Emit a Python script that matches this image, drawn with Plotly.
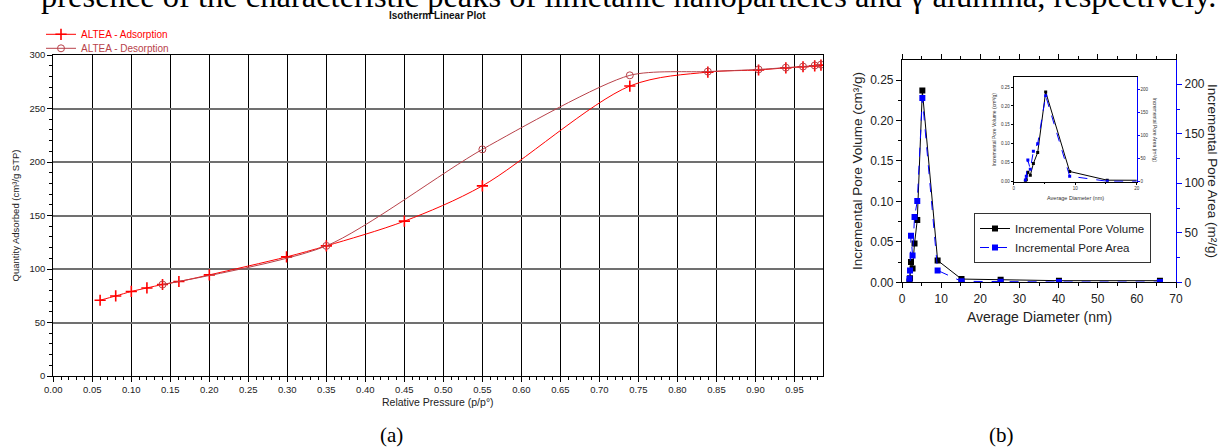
import plotly.graph_objects as go

W, H = 1222, 448

# ---------------- (a) Isotherm data ----------------
ads_p = [0.060, 0.080, 0.100, 0.120, 0.140, 0.161, 0.200, 0.299, 0.350, 0.450,
         0.550, 0.739, 0.839, 0.904, 0.939, 0.961, 0.976, 0.984]
ads_q = [70.8, 74.8, 79.0, 82.3, 85.5, 88.3, 94.5, 111.3, 121.6, 144.7,
         177.7, 271.0, 284.0, 286.0, 288.0, 289.0, 289.8, 290.5]
des_p = [0.984, 0.976, 0.961, 0.939, 0.904, 0.839, 0.739, 0.550, 0.350, 0.140]
des_q = [291.0, 290.2, 289.2, 288.2, 286.5, 284.5, 281.0, 211.8, 121.6, 85.5]

# ---------------- (b) Pore size distribution ----------------
diam = [1.9, 2.05, 2.3, 2.7, 3.2, 3.9, 5.2, 9.1, 15.2, 25.2, 40.1, 65.9]
pore_vol = [0.001, 0.005, 0.025, 0.017, 0.048, 0.077, 0.237, 0.027, 0.004, 0.003, 0.002, 0.002]
pore_area = [3.7, 12.0, 47.0, 27.0, 66.0, 82.0, 186.0, 12.0, 1.0, 0.5, 0.3, 0.2]

LEFT_FONT = "Liberation Sans"
SERIF = "Liberation Serif"
RED = "#FF0000"
DRED = "#B8424A"
BLUE = "#0000FF"


def px(x):
    return x / W


def py(y):
    return 1 - y / H


fig = go.Figure()

fig.add_trace(go.Scatter(
    x=ads_p, y=ads_q, name="ALTEA - Adsorption", mode="lines+markers",
    line=dict(color=RED, width=1, shape="spline", smoothing=0.9),
    marker=dict(symbol="cross-thin", size=8, line=dict(color=RED, width=1.6)),
    xaxis="x", yaxis="y", legend="legend"))
fig.add_trace(go.Scatter(
    x=des_p, y=des_q, name="ALTEA - Desorption", mode="lines+markers",
    line=dict(color=DRED, width=1, shape="spline", smoothing=0.7),
    marker=dict(symbol="circle-open", size=7, color=DRED, line=dict(width=1)),
    xaxis="x", yaxis="y", legend="legend2"))

fig.add_trace(go.Scatter(
    x=diam, y=pore_vol, name="Incremental Pore Volume", mode="lines+markers",
    line=dict(color="black", width=1),
    marker=dict(symbol="square", size=6, color="black"),
    xaxis="x2", yaxis="y2", legend="legend3"))
fig.add_trace(go.Scatter(
    x=diam, y=pore_area, name="Incremental Pore Area", mode="lines+markers",
    line=dict(color=BLUE, width=1, dash="dash"),
    marker=dict(symbol="square", size=6, color=BLUE),
    xaxis="x2", yaxis="y3", legend="legend3"))

fig.add_trace(go.Scatter(
    x=diam, y=pore_vol, mode="lines+markers", showlegend=False,
    line=dict(color="black", width=1),
    marker=dict(symbol="square", size=3, color="black"),
    xaxis="x4", yaxis="y4"))
fig.add_trace(go.Scatter(
    x=diam, y=pore_area, mode="lines+markers", showlegend=False,
    line=dict(color=BLUE, width=1, dash="dash"),
    marker=dict(symbol="square", size=3, color=BLUE),
    xaxis="x4", yaxis="y5"))

tickfont_a = dict(family=LEFT_FONT, size=9.5, color="#222")
tickfont_b = dict(family=LEFT_FONT, size=12, color="#222")
tickfont_i = dict(family=LEFT_FONT, size=4.5, color="#333")

fig.update_layout(
    width=W, height=H,
    margin=dict(l=0, r=0, t=0, b=0, autoexpand=False),
    paper_bgcolor="white", plot_bgcolor="white",
    showlegend=True,
    xaxis=dict(domain=[px(53.3), px(823.3)], range=[0, 0.987], anchor="y",
               tick0=0, dtick=0.05, tickformat=".2f", ticks="outside", ticklen=5,
               tickcolor="black", showline=True, linecolor="black", linewidth=1,
               mirror=True, showgrid=True, gridcolor="black", gridwidth=1,
               zeroline=False, tickfont=tickfont_a,
               minor=dict(dtick=0.01, ticks="outside", ticklen=3, tickcolor="black", showgrid=False)),
    yaxis=dict(domain=[py(376), py(55)], range=[0, 300], anchor="x",
               dtick=50, ticks="outside", ticklen=5, tickcolor="black",
               showline=True, linecolor="black", linewidth=1, mirror=True,
               showgrid=True, gridcolor="#707070", gridwidth=1.5, zeroline=False,
               tickfont=tickfont_a,
               minor=dict(dtick=10, ticks="outside", ticklen=3, tickcolor="black", showgrid=False)),
    xaxis2=dict(domain=[px(902), px(1176)], range=[0, 70], anchor="y2",
                dtick=10, ticks="outside", ticklen=5, tickcolor="black",
                showline=True, linecolor="black", linewidth=1.2, mirror="ticks",
                showgrid=False, zeroline=False, tickfont=tickfont_b,
                minor=dict(dtick=5, ticks="outside", ticklen=3, tickcolor="black")),
    yaxis2=dict(domain=[py(282.3), py(60)], range=[0, 0.2748], anchor="x2",
                dtick=0.05, tickformat=".2f", ticks="outside", ticklen=5,
                tickcolor="black", showline=True, linecolor="black", linewidth=1.2,
                showgrid=False, zeroline=False, tickfont=tickfont_b,
                minor=dict(dtick=0.025, ticks="outside", ticklen=3, tickcolor="black")),
    yaxis3=dict(overlaying="y2", side="right", anchor="x2", range=[0, 224.5],
                dtick=50, ticks="outside", ticklen=5, tickcolor=BLUE,
                showline=True, linecolor=BLUE, linewidth=1.2, showgrid=False,
                zeroline=False, tickfont=tickfont_b,
                minor=dict(dtick=25, ticks="outside", ticklen=3, tickcolor=BLUE)),
    xaxis4=dict(domain=[px(1013.7), px(1136.7)], range=[0, 20], anchor="y4",
                dtick=10, ticks="outside", ticklen=2, tickcolor="black",
                showline=True, linecolor="black", linewidth=1, mirror=True,
                showgrid=False, zeroline=False, tickfont=tickfont_i,
                minor=dict(dtick=5, ticks="outside", ticklen=1.5, tickcolor="black")),
    yaxis4=dict(domain=[py(181.7), py(77.3)], range=[0, 0.2756], anchor="x4",
                dtick=0.05, tickformat=".2f", ticks="outside", ticklen=2,
                tickcolor="black", showline=True, linecolor="black", linewidth=1,
                showgrid=False, zeroline=False, tickfont=tickfont_i),
    yaxis5=dict(overlaying="y4", side="right", anchor="x4", range=[0, 226],
                dtick=50, ticks="outside", ticklen=2, tickcolor=BLUE,
                showline=True, linecolor=BLUE, linewidth=1, showgrid=False,
                zeroline=False, tickfont=tickfont_i),
    legend=dict(x=px(41), y=py(34.3), xanchor="left", yanchor="middle",
                bgcolor="rgba(0,0,0,0)", borderwidth=0, itemwidth=30,
                font=dict(family=LEFT_FONT, size=10, color=RED)),
    legend2=dict(x=px(41), y=py(48.3), xanchor="left", yanchor="middle",
                 bgcolor="rgba(0,0,0,0)", borderwidth=0, itemwidth=30,
                 font=dict(family=LEFT_FONT, size=10, color=DRED)),
    legend3=dict(x=px(974), y=py(238), xanchor="left", yanchor="middle",
                 bgcolor="white", bordercolor="#333", borderwidth=1, itemwidth=30,
                 tracegroupgap=0,
                 font=dict(family=LEFT_FONT, size=11.5, color="#222")),
)

annotations = [
    dict(text="presence of the characteristic peaks of ilmetanic nanoparticles and \u03b3 alumina, respectively.",
         x=px(628), y=py(-4), font=dict(family=SERIF, size=32.5, color="black"),
         xanchor="center", yanchor="middle"),
    dict(text="<b>Isotherm Linear Plot</b>", x=px(437.5), y=py(16),
         font=dict(family=LEFT_FONT, size=10, color="#111"), xanchor="center", yanchor="middle"),
    dict(text="Relative Pressure (p/p\u00b0)", x=px(438), y=py(402),
         font=dict(family=LEFT_FONT, size=10.5, color="#222"), xanchor="center", yanchor="middle"),
    dict(text="Quantity Adsorbed (cm\u00b3/g STP)", x=px(15), y=py(215.5), textangle=-90,
         font=dict(family=LEFT_FONT, size=9.5, color="#222"), xanchor="center", yanchor="middle"),
    dict(text="Average Diameter (nm)", x=px(1039), y=py(317),
         font=dict(family=LEFT_FONT, size=14, color="#222"), xanchor="center", yanchor="middle"),
    dict(text="Incremental Pore Volume (cm\u00b3/g)", x=px(857), y=py(171), textangle=-90,
         font=dict(family=LEFT_FONT, size=13.5, color="#222"), xanchor="center", yanchor="middle"),
    dict(text="Incremental Pore Area (m\u00b2/g)", x=px(1213), y=py(171), textangle=90,
         font=dict(family=LEFT_FONT, size=13.5, color="#222"), xanchor="center", yanchor="middle"),
    dict(text="Average Diameter (nm)", x=px(1075), y=py(197.7),
         font=dict(family=LEFT_FONT, size=5.5, color="#333"), xanchor="center", yanchor="middle"),
    dict(text="Incremental Pore Volume (cm\u00b3/g)", x=px(993), y=py(129.5), textangle=-90,
         font=dict(family=LEFT_FONT, size=5, color="#333"), xanchor="center", yanchor="middle"),
    dict(text="Incremental Pore Area (m\u00b2/g)", x=px(1155), y=py(129.5), textangle=90,
         font=dict(family=LEFT_FONT, size=5, color="#333"), xanchor="center", yanchor="middle"),
    dict(text="(a)", x=px(391), y=py(435),
         font=dict(family=SERIF, size=21, color="black"), xanchor="center", yanchor="middle"),
    dict(text="(b)", x=px(1001), y=py(435),
         font=dict(family=SERIF, size=21, color="black"), xanchor="center", yanchor="middle"),
]
for a in annotations:
    a.update(xref="paper", yref="paper", showarrow=False)
fig.update_layout(annotations=annotations)

fig.write_html("out.html", config={"displayModeBar": False},
               post_script="document.body.style.margin='0px';")
